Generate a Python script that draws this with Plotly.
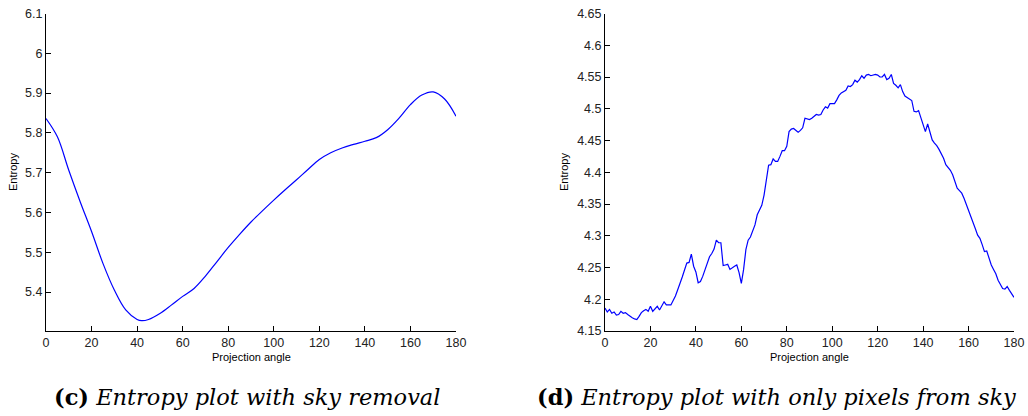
import plotly.graph_objects as go

# ---- Data (c): entropy with sky removal ----
angles_c = [0, 5, 10, 15, 20, 25, 30, 35, 40, 42, 45, 50, 55, 60, 65, 70, 75, 80, 85, 90,
            95, 100, 105, 110, 115, 120, 125, 130, 135, 140, 145, 150, 155, 160, 165, 170, 175, 180]
entropy_c = [5.836, 5.790, 5.706, 5.627, 5.552, 5.472, 5.405, 5.355, 5.331, 5.328, 5.331, 5.346,
             5.367, 5.389, 5.409, 5.440, 5.476, 5.512, 5.545, 5.576, 5.604, 5.631, 5.657, 5.682,
             5.708, 5.733, 5.750, 5.762, 5.771, 5.779, 5.788, 5.808, 5.837, 5.871, 5.895, 5.903,
             5.885, 5.842]

# ---- Data (d): entropy with only sky pixels (1 degree steps) ----
angles_d = list(range(0, 181))
entropy_d = [
    4.186, 4.180, 4.184, 4.178, 4.180, 4.175, 4.176, 4.181, 4.178, 4.179,
    4.176, 4.173, 4.171, 4.169, 4.168, 4.173, 4.179, 4.182, 4.184, 4.181,
    4.189, 4.181, 4.186, 4.189, 4.183, 4.189, 4.196, 4.191, 4.191, 4.191,
    4.198, 4.205, 4.215, 4.224, 4.235, 4.246, 4.257, 4.258, 4.271, 4.252,
    4.243, 4.226, 4.228, 4.236, 4.247, 4.259, 4.267, 4.272, 4.279, 4.293,
    4.289, 4.289, 4.253, 4.254, 4.255, 4.247, 4.250, 4.252, 4.254, 4.242,
    4.225, 4.247, 4.278, 4.293, 4.298, 4.309, 4.317, 4.333, 4.341, 4.348,
    4.364, 4.385, 4.411, 4.412, 4.421, 4.417, 4.417, 4.425, 4.434, 4.434,
    4.441, 4.464, 4.468, 4.469, 4.466, 4.463, 4.466, 4.470, 4.485, 4.484,
    4.483, 4.485, 4.488, 4.491, 4.490, 4.491, 4.498, 4.503, 4.501, 4.508,
    4.508, 4.508, 4.514, 4.521, 4.525, 4.527, 4.529, 4.536, 4.535, 4.538,
    4.545, 4.542, 4.546, 4.552, 4.548, 4.553, 4.554, 4.552, 4.553, 4.554,
    4.553, 4.550, 4.550, 4.554, 4.546, 4.548, 4.554, 4.540, 4.537, 4.533,
    4.538, 4.527, 4.520, 4.518, 4.516, 4.513, 4.496, 4.495, 4.497, 4.485,
    4.473, 4.464, 4.476, 4.462, 4.451, 4.446, 4.442, 4.436, 4.430, 4.422,
    4.412, 4.408, 4.403, 4.396, 4.386, 4.375, 4.371, 4.367, 4.359, 4.350,
    4.341, 4.331, 4.322, 4.311, 4.301, 4.296, 4.286, 4.275, 4.276, 4.265,
    4.254, 4.247, 4.240, 4.230, 4.223, 4.217, 4.216, 4.220, 4.214, 4.209,
    4.203]

xticks = [0, 20, 40, 60, 80, 100, 120, 140, 160, 180]
yticks_c = [5.4, 5.5, 5.6, 5.7, 5.8, 5.9, 6.0, 6.1]
yticks_c_text = ["5.4", "5.5", "5.6", "5.7", "5.8", "5.9", "6", "6.1"]
yticks_d = [4.15, 4.2, 4.25, 4.3, 4.35, 4.4, 4.45, 4.5, 4.55, 4.6, 4.65]
yticks_d_text = ["4.15", "4.2", "4.25", "4.3", "4.35", "4.4", "4.45", "4.5", "4.55", "4.6", "4.65"]

W, H = 1028, 416
line_color = "#0000ff"
tick_font = dict(family="Liberation Sans, Arial, sans-serif", size=12.5, color="#222222")

fig = go.Figure()
fig.add_trace(go.Scatter(x=angles_c, y=entropy_c, mode="lines",
                         line=dict(color=line_color, width=1.2, shape="spline", smoothing=1.0),
                         xaxis="x", yaxis="y", showlegend=False, hoverinfo="skip"))
fig.add_trace(go.Scatter(x=angles_d, y=entropy_d, mode="lines",
                         line=dict(color=line_color, width=1.2),
                         xaxis="x2", yaxis="y2", showlegend=False, hoverinfo="skip"))

ydom = [1 - 331 / H, 1 - 13.5 / H]
common = dict(showline=True, linecolor="black", linewidth=1, ticks="inside", ticklen=5,
              tickcolor="black", showgrid=False, zeroline=False, mirror=False,
              tickfont=tick_font, fixedrange=True, automargin=False)

fig.update_layout(
    template="none",
    width=W, height=H, autosize=False,
    margin=dict(l=0, r=0, t=0, b=0, pad=0),
    paper_bgcolor="white", plot_bgcolor="white",
    hovermode=False,
    xaxis=dict(domain=[46 / W, 456 / W], range=[0, 180], tickvals=xticks,
               anchor="y", **common),
    yaxis=dict(domain=ydom, range=[5.302, 6.1], tickvals=yticks_c, ticktext=yticks_c_text,
               anchor="x", **common),
    xaxis2=dict(domain=[605 / W, 1014 / W], range=[0, 180], tickvals=xticks,
                anchor="y2", **common),
    yaxis2=dict(domain=ydom, range=[4.15, 4.65], tickvals=yticks_d, ticktext=yticks_d_text,
                anchor="x2", **common),
)

label_font = dict(family="Liberation Sans, Arial, sans-serif", size=11, color="black")
caption_font = dict(family="DejaVu Serif, serif", size=22.5, color="black")

annotations = [
    dict(text="Entropy", x=13 / W, y=1 - 172 / H, textangle=-90, font=label_font),
    dict(text="Projection angle", x=251 / W, y=1 - 357 / H, font=label_font),
    dict(text="Entropy", x=564 / W, y=1 - 172 / H, textangle=-90, font=label_font),
    dict(text="Projection angle", x=809 / W, y=1 - 357 / H, font=label_font),
    dict(text="<b>(c)</b> <i>Entropy plot with sky removal</i>", x=247 / W, y=1 - 397 / H,
         font=caption_font),
    dict(text="<b>(d)</b> <i>Entropy plot with only pixels from sky</i>", x=776 / W,
         y=1 - 397 / H, font=caption_font),
]
for a in annotations:
    a.update(xref="paper", yref="paper", showarrow=False, xanchor="center", yanchor="middle")
fig.update_layout(annotations=annotations)

fig.write_html(
    "out.html",
    config={"displayModeBar": False, "staticPlot": True},
    post_script="document.body.style.margin='0';document.body.style.padding='0';"
                "document.body.style.overflow='hidden';",
)
